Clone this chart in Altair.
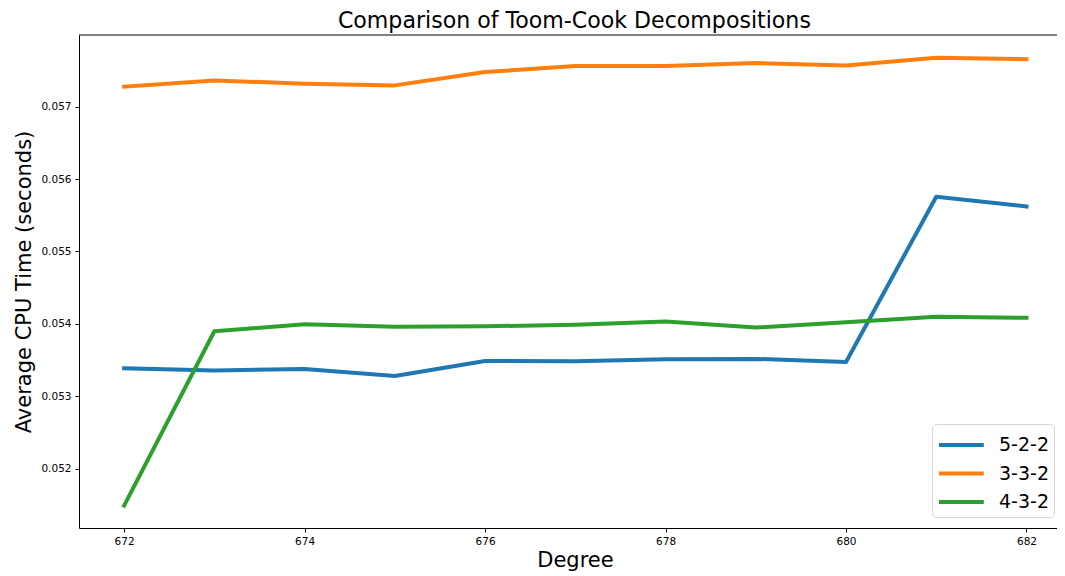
import altair as alt
import pandas as pd

degrees = [672, 673, 674, 675, 676, 677, 678, 679, 680, 681, 682]
series_names = ["5-2-2", "3-3-2", "4-3-2"]
s_522 = [0.053387, 0.053355, 0.053377, 0.053280, 0.053488, 0.053484, 0.053511, 0.053516, 0.053474, 0.055755, 0.055622]
s_332 = [0.057276, 0.057363, 0.057318, 0.057294, 0.057478, 0.057561, 0.057561, 0.057602, 0.057570, 0.057677, 0.057657]
s_432 = [0.051490, 0.053898, 0.053995, 0.053959, 0.053967, 0.053986, 0.054032, 0.053949, 0.054022, 0.054097, 0.054083]
colors = ["#1f77b4", "#ff7f0e", "#2ca02c"]
y_ticks = [0.052, 0.053, 0.054, 0.055, 0.056, 0.057]
x_ticks = [672, 674, 676, 678, 680, 682]

rows = []
for name, vals in zip(series_names, [s_522, s_332, s_432]):
    for d, v in zip(degrees, vals):
        rows.append({"Degree": d, "Time": v, "Decomposition": name})
df = pd.DataFrame(rows)

W, H = 978, 493
FONT = "DejaVu Sans"

lines = alt.Chart(df).mark_line(strokeWidth=4, strokeCap="square", strokeJoin="round").encode(
    x=alt.X("Degree:Q",
            scale=alt.Scale(domain=[671.5, 682.338], nice=False, zero=False),
            axis=alt.Axis(values=x_ticks, format="d", title="Degree",
                          titleFontSize=21, titleFontWeight="normal",
                          titleX=496, titleY=38.5, titleBaseline="alphabetic",
                          titleAlign="center",
                          labelFontSize=10.5, tickSize=4, labelPadding=4)),
    y=alt.Y("Time:Q",
            scale=alt.Scale(domain=[0.05118, 0.05799], nice=False, zero=False),
            axis=alt.Axis(values=y_ticks, format=".3f", title="Average CPU Time (seconds)",
                          titleFontSize=21, titleFontWeight="normal",
                          titleX=-49, titleY=246.5, titleBaseline="alphabetic",
                          titleAlign="center", titleAngle=-90,
                          labelFontSize=10.5, tickSize=4, labelPadding=4)),
    color=alt.Color("Decomposition:N",
                    scale=alt.Scale(domain=series_names, range=colors),
                    sort=series_names,
                    legend=alt.Legend(orient="none", legendX=853, legendY=389, title=None,
                                      symbolType="M-1,0H2.2", symbolSize=784,
                                      symbolStrokeWidth=4, labelFontSize=19,
                                      labelFont=FONT, padding=5, strokeColor="#d6d6d6",
                                      cornerRadius=4, fillColor="white", rowPadding=2.5,
                                      labelOffset=30, labelColor="black")),
)

frame_top = alt.Chart(pd.DataFrame({"a": [0]})).mark_rule(color="black", strokeWidth=1).encode(
    x=alt.value(0), x2=alt.value(W), y=alt.value(0)
)

chart = alt.layer(lines, frame_top).properties(
    width=W, height=H,
    title=alt.TitleParams("Comparison of Toom-Cook Decompositions", fontSize=22.1, font=FONT,
                          fontWeight="normal", anchor="middle", frame="group", offset=5,
                          baseline="alphabetic", dx=6.4, dy=21, color="black"),
    autosize=alt.AutoSizeParams(type="none"),
    padding={"left": 71, "top": 27, "right": 0, "bottom": 46},
).configure(font=FONT).configure_view(stroke=None).configure_axis(
    grid=False, domainColor="black", domainWidth=1, tickColor="black", tickWidth=1,
    labelColor="black", titleColor="black", labelFont=FONT, titleFont=FONT
)

chart.save("out.html", embed_options={"renderer": "svg", "actions": False})
